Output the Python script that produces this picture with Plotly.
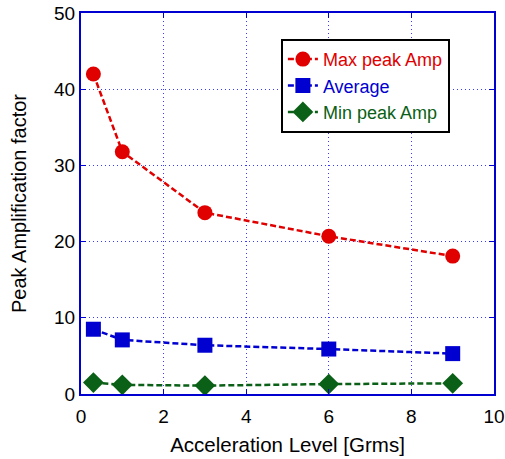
import plotly.graph_objects as go

x_vals = [0.3, 1, 3, 6, 9]
max_peak = [42.0, 31.8, 23.8, 20.7, 18.1]
average = [8.5, 7.1, 6.4, 5.9, 5.3]
min_peak = [1.5, 1.2, 1.1, 1.3, 1.4]
series_names = ["Max peak Amp", "Average", "Min peak Amp"]
series_colors = ["#e00000", "#0000d0", "#0a6016"]


def colored(name, color):
    return f"<span style='color:{color}'>{name}</span>"


fig = go.Figure()
fig.add_trace(go.Scatter(x=x_vals, y=max_peak, name=colored(series_names[0], series_colors[0]),
                         mode="lines+markers",
                         line=dict(color=series_colors[0], dash="6px,3px", width=2.5),
                         marker=dict(symbol="circle", size=15, color=series_colors[0])))
fig.add_trace(go.Scatter(x=x_vals, y=average, name=colored(series_names[1], series_colors[1]),
                         mode="lines+markers",
                         line=dict(color=series_colors[1], dash="6px,3px", width=2.5),
                         marker=dict(symbol="square", size=15, color=series_colors[1])))
fig.add_trace(go.Scatter(x=x_vals, y=min_peak, name=colored(series_names[2], series_colors[2]),
                         mode="lines+markers",
                         line=dict(color=series_colors[2], dash="6px,3px", width=2.5),
                         marker=dict(symbol="diamond", size=16, color=series_colors[2])))

axis_common = dict(showline=True, linecolor="#0000d0", linewidth=2, mirror="ticks",
                   ticks="inside", ticklen=5, tickcolor="#0000d0",
                   showgrid=True, gridcolor="#3a3aff", griddash="1px,3px", gridwidth=1,
                   zeroline=False, automargin=False, tickfont=dict(size=19, color="black"))

fig.update_xaxes(range=[0, 10], dtick=2, ticklabelstandoff=4,
                 title=dict(text="Acceleration Level [Grms]", font=dict(size=20.5, color="black"), standoff=12),
                 **axis_common)
fig.update_yaxes(range=[0, 50], dtick=10,
                 title=dict(text="Peak Amplification factor", font=dict(size=20, color="black"), standoff=22),
                 **axis_common)

fig.update_layout(
    width=505, height=459,
    margin=dict(l=81, r=11, t=13, b=65),
    plot_bgcolor="white", paper_bgcolor="white",
    font=dict(family="Liberation Sans, Arial, sans-serif", size=19, color="black"),
    legend=dict(x=0.484, y=0.932, xanchor="left", yanchor="top",
                bordercolor="black", borderwidth=2, bgcolor="white",
                font=dict(size=18), tracegroupgap=0),
    showlegend=True,
)

fig.write_html("out.html")
